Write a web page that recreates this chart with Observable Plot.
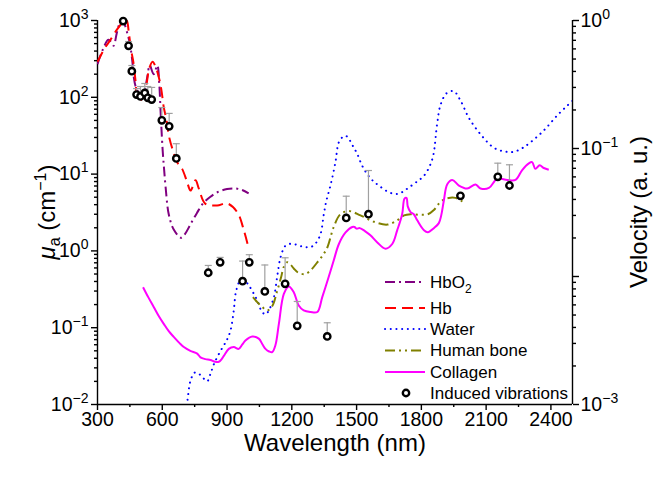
<!DOCTYPE html>
<html><head><meta charset="utf-8">
<script src="https://cdn.jsdelivr.net/npm/d3@7"></script>
<script src="https://cdn.jsdelivr.net/npm/@observablehq/plot@0.6"></script>
<style>
body{margin:0;background:#fff;}
svg{font-family:"Liberation Sans",Arial,sans-serif;}
</style>
</head><body><div id="chart"></div>
<script>
// ---- Data ----
const hbo2Nm  = [300,325,350,365,375,390,405,415,425,440,450,461,468,476,484,500,515,530,542,560,577,586,592,596,602,608,616,630,653,688,705,730,760,790,820,855,900,940,970,1000];
const hbo2Mua = [270,420,560,520,470,700,950,1000,900,650,500,300,183,140,124,95,110,180,260,200,260,150,67,40,20,12,6.5,3.0,1.9,1.48,1.65,2.2,3.1,4.2,5.0,5.8,6.4,6.5,6.2,5.6];

const hbNm  = [300,330,360,390,410,425,435,445,455,465,476,484,495,510,525,540,555,570,584,596,607,620,630,650,669,692,715,731,754,769,800,854,901,947,978,1001];
const hbMua = [290,420,560,760,900,1000,1000,700,420,300,165,100,88,105,140,240,290,245,183,124,74,50,32,20,14.3,11.7,7.9,6.1,8.3,6.5,4.1,3.9,4.15,3.2,1.85,1.05];

const waterNm  = [690,715,731,750,770,790,808,825,840,870,900,916,931,942,962,985,1001,1020,1040,1063,1080,1093,1117,1132,1148,1171,1200,1230,1260,1290,1310,1333,1348,1360,1379,1402,1418,1440,1455,1480,1503,1525,1549,1575,1603,1640,1680,1710,1742,1780,1812,1840,1856,1873,1889,1917,1950,1981,2020,2074,2136,2190,2228,2270,2306,2367,2429,2476,2500];
const waterMua = [0.005,0.0107,0.0205,0.026,0.025,0.022,0.020,0.026,0.034,0.05,0.07,0.092,0.167,0.30,0.41,0.40,0.355,0.29,0.226,0.159,0.15,0.167,0.25,0.46,0.83,1.17,1.24,1.18,1.12,1.13,1.25,1.66,3.0,4.5,7.1,14.3,26,31,31,24,18.3,13,10,8.2,7.1,6.0,5.5,5.8,6.7,8.0,9.5,13,18,45,80,113,120,91,54,33,22,19.6,19.5,22,26,37,58,78,90];

const boneNm  = [1020,1040,1063,1086,1109,1132,1150,1163,1179,1195,1209,1230,1263,1290,1318,1340,1364,1394,1425,1464,1518,1580,1642,1688,1720,1750,1790,1830,1858,1880,1900,1927,1958,1990];
const boneMua = [0.25,0.215,0.186,0.168,0.19,0.30,0.45,0.62,0.71,0.66,0.59,0.52,0.50,0.57,0.71,0.85,1.1,2.05,3.0,3.3,2.9,2.4,2.2,2.5,2.9,3.0,2.95,3.0,3.4,4.1,4.6,4.9,4.9,4.4];

const collNm  = [511,535,561,585,607,630,653,680,700,730,762,777,800,823,845,862,875,885,908,931,954,970,985,1017,1047,1065,1078,1095,1109,1124,1140,1163,1186,1209,1232,1255,1287,1318,1341,1371,1394,1418,1449,1480,1490,1500,1515,1540,1564,1596,1634,1665,1688,1711,1722,1731,1737,1750,1765,1781,1812,1830,1860,1881,1892,1904,1920,1943,1974,2012,2051,2074,2113,2151,2198,2236,2267,2298,2313,2328,2348,2367,2390];
const collMua = [0.337,0.25,0.185,0.14,0.112,0.09,0.076,0.063,0.056,0.05,0.046,0.041,0.039,0.038,0.036,0.036,0.039,0.043,0.053,0.056,0.053,0.06,0.068,0.077,0.072,0.06,0.053,0.049,0.048,0.059,0.112,0.275,0.345,0.29,0.195,0.168,0.16,0.16,0.25,0.46,0.75,1.23,1.74,2.05,2.05,1.95,1.98,1.8,1.6,1.29,1.07,1.23,1.85,3.0,4.8,4.9,3.8,3.2,3.0,2.5,1.86,1.75,2.0,2.3,2.9,4.5,7.4,8.4,7.1,6.5,7.3,6.5,6.6,8.7,8.4,8.4,11.3,13.8,14.3,11.7,13,12,11.4];

// Induced vibrations (velocity, right axis) and top of the error bar
const vibNm    = [419,444,459,481,499,519,533,551,598,632,665,813,868,972,1003,1075,1169,1225,1364,1452,1555,1981,2154,2208];
const vibVel   = [0.99,0.634,0.402,0.264,0.255,0.272,0.249,0.241,0.166,0.149,0.0836,0.0107,0.0129,0.00919,0.0129,0.00764,0.00877,0.00412,0.0034,0.0287,0.0307,0.0427,0.0601,0.0514];
const vibUpper = [0.99,0.685,0.445,0.294,0.305,0.322,0.305,0.300,0.209,0.188,0.109,0.0122,0.0141,0.0132,0.0148,0.0123,0.0140,0.00638,0.00435,0.0424,0.0673,0.0427,0.0768,0.0746];

const xTicks = [300,600,900,1200,1500,1800,2100,2400];
const xMinor = [450,750,1050,1350,1650,1950,2250];
const yTicks = [0.01,0.1,1,10,100,1000];
const velTicks = [0.001,0.01,0.1,1];

// ---- helpers ----
const rows = (xs, ys) => xs.map((x, i) => ({x, y: ys[i]}));
// right axis: velocity 1e-3..1 mapped onto the left axis 1e-2..1e3
const toMu = v => Math.pow(10, 3 + (5 / 3) * Math.log10(v));
const fromMu = m => Math.pow(10, (Math.log10(m) - 3) * 3 / 5);
const yMinor = [];
for (let e = -2; e <= 2; e++) for (let k = 2; k <= 9; k++) yMinor.push(k * Math.pow(10, e));
const velMinor = [];
for (let e = -3; e <= -1; e++) for (let k = 2; k <= 9; k++) velMinor.push(toMu(k * Math.pow(10, e)));

const vib = vibNm.map((x, i) => ({x, v: vibVel[i], hi: vibUpper[i]}));
const capSymbol = {draw(ctx) { ctx.moveTo(-3.5, 0); ctx.lineTo(3.5, 0); }};

const series = [
  {name: "HbO2", data: rows(hbo2Nm, hbo2Mua), color: "#800080", dash: "10,4,2,4", cap: "butt"},
  {name: "Hb", data: rows(hbNm, hbMua), color: "#ff0000", dash: "11,6", cap: "butt"},
  {name: "Water", data: rows(waterNm, waterMua), color: "#0000ff", dash: "0.1,5.6", cap: "round"},
  {name: "Human bone", data: rows(boneNm, boneMua), color: "#808000", dash: "10,4,2,4,2,4", cap: "butt"},
  {name: "Collagen", data: rows(collNm, collMua), color: "#ff00ff", dash: null, cap: "butt"}
];

const expFmt = d => "10|" + Math.round(Math.log10(d));
const axisStyle = {stroke: "black", strokeWidth: 1.4, fontSize: 19.5, label: null};

const plot = Plot.plot({
  width: 655, height: 477,
  marginLeft: 97, marginRight: 83, marginTop: 20, marginBottom: 73,
  style: {fontFamily: "Liberation Sans, Arial, sans-serif", fontSize: "19.5px", color: "black", background: "white", overflow: "visible"},
  x: {domain: [300, 2500]},
  y: {type: "log", domain: [0.01, 1000]},
  marks: [
    Plot.axisX({...axisStyle, ticks: xTicks, tickSize: 6, tickPadding: 2, tickFormat: d => String(d)}),
    Plot.axisX({...axisStyle, ticks: xMinor, tickSize: 3, tickFormat: () => ""}),
    Plot.axisY({...axisStyle, anchor: "left", ticks: yTicks, tickSize: 6, tickPadding: 3, tickFormat: expFmt}),
    Plot.axisY({...axisStyle, anchor: "left", ticks: yMinor, tickSize: 3, tickFormat: () => ""}),
    Plot.axisY({...axisStyle, anchor: "right", ticks: velTicks.map(toMu), tickSize: 6, tickPadding: 2, tickFormat: d => expFmt(fromMu(d))}),
    Plot.axisY({...axisStyle, anchor: "right", ticks: velMinor, tickSize: 3, tickFormat: () => ""}),
    Plot.ruleY([0.01], {stroke: "black", strokeWidth: 1.4}),
    Plot.ruleX([300], {stroke: "black", strokeWidth: 1.4}),
    Plot.ruleX([2500], {stroke: "black", strokeWidth: 1.4}),
    ...series.map(s => Plot.line(s.data, {x: "x", y: "y", stroke: s.color, strokeWidth: 2, strokeDasharray: s.dash, strokeLinecap: s.cap, curve: "catmull-rom", clip: true})),
    Plot.ruleX(vib, {x: "x", y1: d => toMu(d.v), y2: d => toMu(d.hi), stroke: "#a0a0a0", strokeWidth: 1.2}),
    Plot.dot(vib, {x: "x", y: d => toMu(d.hi), symbol: capSymbol, r: 3, stroke: "#a0a0a0", strokeWidth: 1.2, fill: "none"}),
    Plot.dot(vib, {x: "x", y: d => toMu(d.v), r: 3.2, stroke: "black", strokeWidth: 2.4, fill: "white"})
  ]
});
document.getElementById("chart").appendChild(plot);

// ---- superscript exponents on tick labels ----
const NS = "http://www.w3.org/2000/svg";
plot.querySelectorAll("text").forEach(t => {
  const s = t.textContent;
  if (!s.includes("|")) return;
  const [base, exp] = s.split("|");
  t.textContent = "";
  const a = document.createElementNS(NS, "tspan"); a.textContent = base; t.appendChild(a);
  const b = document.createElementNS(NS, "tspan");
  b.textContent = exp.replace("-", "\u2212");
  b.setAttribute("dy", "-8"); b.setAttribute("font-size", "14");
  t.appendChild(b);
});

// ---- axis titles ----
const svg = d3.select(plot);
svg.append("text").attr("x", 335).attr("y", 451).attr("text-anchor", "middle").attr("font-size", 24).attr("fill", "black").text("Wavelength (nm)");

const yl = svg.append("text").attr("transform", "translate(55,212) rotate(-90)").attr("text-anchor", "middle").attr("font-size", 24).attr("fill", "black");
yl.append("tspan").attr("font-style", "italic").text("\u03bc");
yl.append("tspan").attr("font-size", 16).attr("dy", 5).text("a");
yl.append("tspan").attr("dy", -5).text(" (cm");
yl.append("tspan").attr("font-size", 16).attr("dy", -9).text("\u22121");
yl.append("tspan").attr("dy", 9).text(")");

svg.append("text").attr("transform", "translate(647,212) rotate(-90)").attr("text-anchor", "middle").attr("font-size", 24).attr("fill", "black").text("Velocity (a. u.)");

// ---- legend ----
const legY = [282, 308, 329, 350.5, 372, 393];
const lg = svg.append("g").attr("text-anchor", "start");
series.forEach((s, i) => {
  lg.append("line").attr("x1", 385).attr("x2", 425).attr("y1", legY[i]).attr("y2", legY[i])
    .attr("stroke", s.color).attr("stroke-width", 2).attr("stroke-dasharray", s.dash).attr("stroke-linecap", s.cap);
  const t = lg.append("text").attr("x", 430).attr("y", legY[i]).attr("dy", "0.35em").attr("font-size", 17).attr("fill", "black").attr("text-anchor", "start");
  if (s.name === "HbO2") {
    t.append("tspan").text("HbO");
    t.append("tspan").attr("font-size", 12).attr("dy", 5).text("2");
  } else t.text(s.name);
});
lg.append("circle").attr("cx", 406).attr("cy", legY[5]).attr("r", 3.2).attr("stroke", "black").attr("stroke-width", 2.4).attr("fill", "white");
lg.append("text").attr("x", 430).attr("y", legY[5]).attr("dy", "0.35em").attr("font-size", 17).attr("fill", "black").attr("text-anchor", "start").text("Induced vibrations");
</script>
</body></html>
